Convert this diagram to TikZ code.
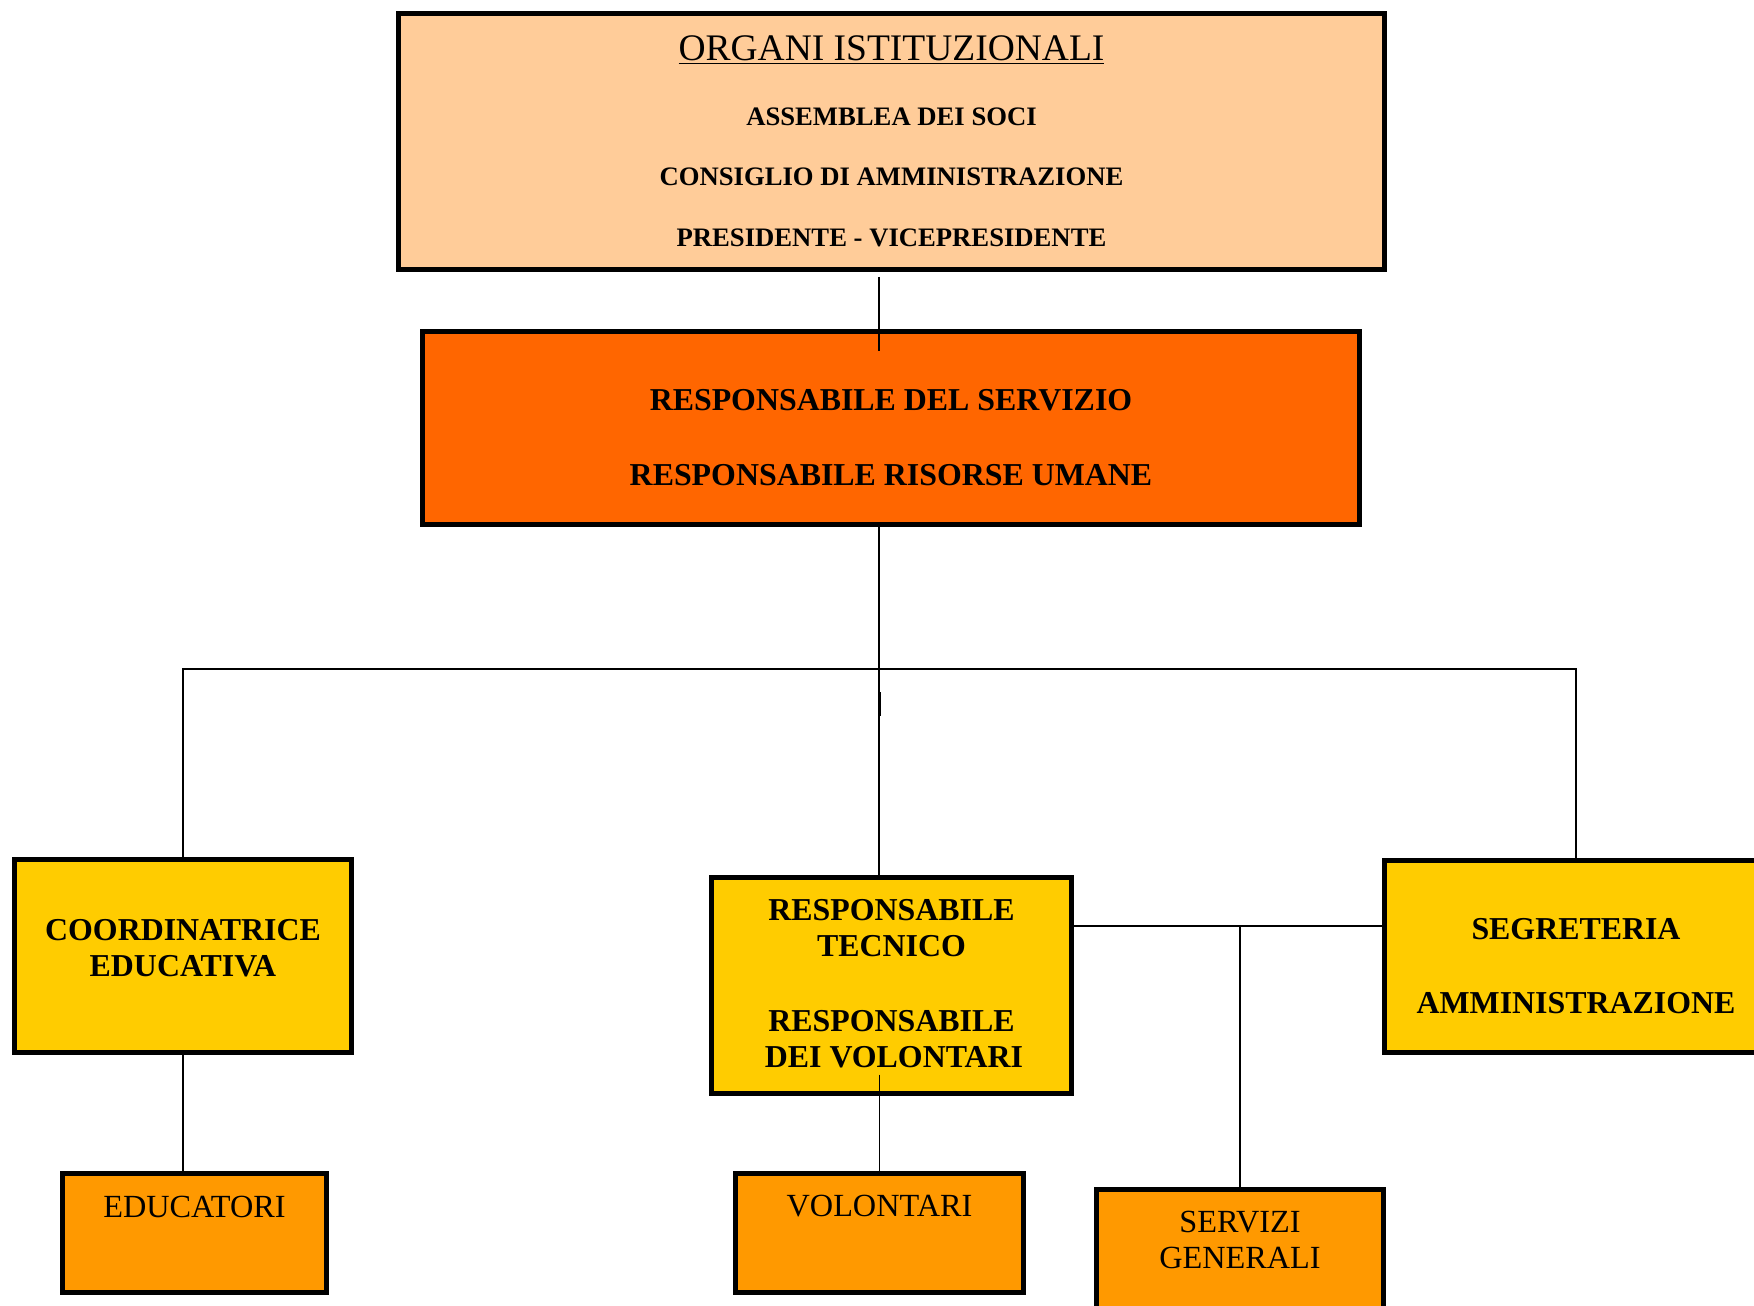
\documentclass[tikz,border=0pt]{standalone}
\usepackage{fontspec}
\setmainfont{Liberation Serif}
\newlength\pxu
\setlength\pxu{0.48pt}
\definecolor{peachc}{HTML}{FFCC99}
\definecolor{orangeA}{HTML}{FF6600}
\definecolor{yelc}{HTML}{FFCC00}
\definecolor{orangeB}{HTML}{FF9900}
\tikzset{
  box/.style={draw=black, line width=5.5\pxu, inner sep=0pt, outer sep=0pt},
  conn/.style={draw=black, line width=1.6\pxu},
  lblb/.style={anchor=base, inner sep=0pt, font=\fontsize{15.3}{18}\selectfont\bfseries},
  lblr/.style={anchor=base, inner sep=0pt, font=\fontsize{15.5}{18}\selectfont},
  lbls/.style={anchor=base, inner sep=0pt, font=\fontsize{12.8}{15}\selectfont\bfseries},
}
\begin{document}
\begin{tikzpicture}[x=0.48pt, y=-0.48pt]
\useasboundingbox (0,0) rectangle (1754,1306);
\clip (0,0) rectangle (1754,1306);

% boxes
\node[box, fill=peachc, minimum width=986\pxu, minimum height=256\pxu] (org) at (891.5,141.5) {};
\node[box, fill=orangeA, minimum width=937\pxu, minimum height=193\pxu] (resp) at (891,428) {};
\node[box, fill=yelc, minimum width=337\pxu, minimum height=193\pxu] (coord) at (183,956) {};
\node[box, fill=yelc, minimum width=360\pxu, minimum height=216\pxu] (rt) at (891.5,985.5) {};
\node[box, fill=yelc, minimum width=383\pxu, minimum height=192\pxu] (seg) at (1576,956.5) {};
\node[box, fill=orangeB, minimum width=264\pxu, minimum height=119\pxu] (educ) at (194.5,1233) {};
\node[box, fill=orangeB, minimum width=288\pxu, minimum height=119\pxu] (vol) at (879.5,1233) {};
\node[box, fill=orangeB, minimum width=287\pxu, minimum height=128\pxu] (serv) at (1240,1253.5) {};

% helper coordinates
\coordinate (sp) at (879,0);
\coordinate (bar) at (879,669);
\coordinate (hb) at (1240,926);

% connectors
\draw[conn] ([yshift=-7.5\pxu]org.south -| sp) -- ([yshift=-20\pxu]resp.north -| sp);
\draw[conn] (resp.south -| sp) -- (rt.north -| sp);
\draw[conn] (coord.north) -- (coord.north |- bar) -- (seg.north |- bar) -- (seg.north);
\draw[line width=3\pxu] ([yshift=-23\pxu]bar) -- ([yshift=-47\pxu]bar);
\draw[conn] (coord.south) -- (coord.south |- educ.north);
\draw[conn] ([yshift=19\pxu]rt.south -| vol.north) -- (vol.north);
\draw[conn] (rt.east |- hb) -- (seg.west |- hb);
\draw[conn] (hb) -- (serv.north);

% texts
\node[anchor=base, inner sep=0pt, font=\fontsize{18}{21}\selectfont] (t0) at (891.5,60.4) {\underline{ORGANI ISTITUZIONALI}};
\node[lbls] (t1) at (891.5,125.6) {ASSEMBLEA DEI SOCI};
\node[lbls] (t2) at (891.5,185.6) {CONSIGLIO DI AMMINISTRAZIONE};
\node[lbls] (t3) at (891.5,246.6) {PRESIDENTE - VICEPRESIDENTE};

\node[lblb] (r1) at (891,410) {RESPONSABILE DEL SERVIZIO};
\node[lblb] (r2) at (891,485) {RESPONSABILE RISORSE UMANE};

\node[lblb] (c1) at (183,940) {COORDINATRICE};
\node[lblb] (c2) at (183,976) {EDUCATIVA};

\node[lblb] (q1) at (891.5,920) {RESPONSABILE};
\node[lblb] (q2) at (891.5,956) {TECNICO};
\node[lblb] (q3) at (891.5,1031) {RESPONSABILE};
\node[lblb] (q4) at (894,1067) {DEI VOLONTARI};

\node[lblb] (s1) at (1576,939) {SEGRETERIA};
\node[lblb] (s2) at (1576,1013) {AMMINISTRAZIONE};

\node[lblr] (e1) at (194.5,1217) {EDUCATORI};
\node[lblr] (v1) at (879.5,1216) {VOLONTARI};
\node[lblr] (g1) at (1240,1232) {SERVIZI};
\node[lblr] (g2) at (1240,1268) {GENERALI};
\end{tikzpicture}
\end{document}
